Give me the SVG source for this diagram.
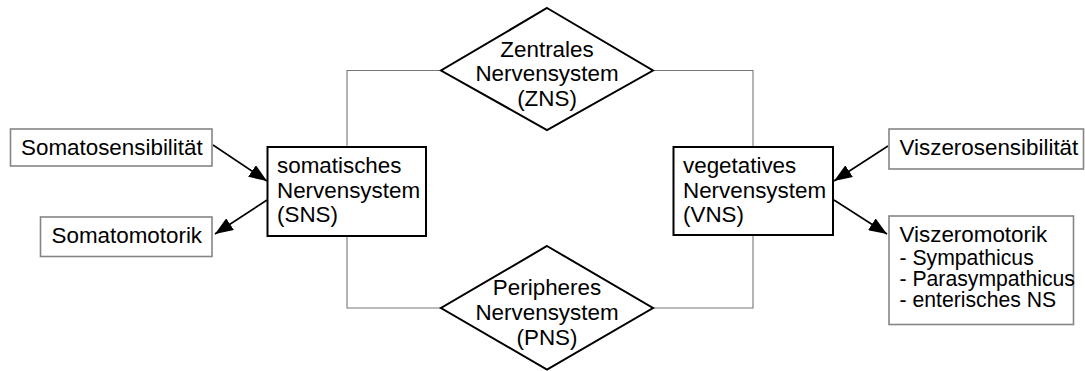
<svg xmlns="http://www.w3.org/2000/svg" width="1085" height="371" viewBox="0 0 1085 371">
<style>
text{font-family:"Liberation Sans",Arial,sans-serif;font-size:22.4px;fill:#000}
.sub{font-size:21.2px}
.mid{text-anchor:middle}
.main{fill:#fff;stroke:#000;stroke-width:2}
.leaf{fill:#fff;stroke:#858585;stroke-width:1.6}
.link{fill:none;stroke:#777;stroke-width:1.1}
.arrow{fill:none;stroke:#000;stroke-width:1.6;marker-end:url(#ah)}
</style>
<defs>
<marker id="ah" markerUnits="userSpaceOnUse" markerWidth="20" markerHeight="14" refX="18" refY="7" orient="auto">
<path d="M0,0 L18,7 L0,14 z" fill="#000"/>
</marker>
</defs>
<rect width="1085" height="371" fill="#fff"/>
<g id="connectors">
<polyline class="link" points="441,70.5 347,70.5 347,147"/>
<polyline class="link" points="653,70.5 753,70.5 753,147"/>
<polyline class="link" points="347,236 347,308 441,308"/>
<polyline class="link" points="753,235 753,308 653,308"/>
<line class="arrow" x1="213" y1="145" x2="267" y2="181"/>
<line class="arrow" x1="267" y1="200" x2="215" y2="234"/>
<line class="arrow" x1="888" y1="146" x2="834" y2="181"/>
<line class="arrow" x1="834" y1="200" x2="887" y2="234"/>
</g>
<g id="zns">
<polygon class="main" points="547,8 653,70.5 547,130 441,70.5"/>
<text class="mid" x="547" y="56.5">Zentrales</text>
<text class="mid" x="547" y="81">Nervensystem</text>
<text class="mid" x="547" y="105.5">(ZNS)</text>
</g>
<g id="pns">
<polygon class="main" points="547,246 653,308 547,369.5 441,308"/>
<text class="mid" x="547" y="295">Peripheres</text>
<text class="mid" x="547" y="320">Nervensystem</text>
<text class="mid" x="547" y="344.5">(PNS)</text>
</g>
<g id="sns">
<rect class="main" x="267.5" y="147" width="158.5" height="89"/>
<text x="277" y="173">somatisches</text>
<text x="277" y="197.5">Nervensystem</text>
<text x="277" y="222">(SNS)</text>
</g>
<g id="vns">
<rect class="main" x="673.5" y="147" width="159.5" height="88"/>
<text x="683" y="173">vegetatives</text>
<text x="683" y="197.5">Nervensystem</text>
<text x="683" y="222">(VNS)</text>
</g>
<g id="somatosensibilitaet">
<rect class="leaf" x="10.5" y="129" width="201.5" height="37"/>
<text x="21" y="155">Somatosensibilität</text>
</g>
<g id="somatomotorik">
<rect class="leaf" x="40.5" y="217" width="171.5" height="39.5"/>
<text x="51.5" y="243">Somatomotorik</text>
</g>
<g id="viszerosensibilitaet">
<rect class="leaf" x="889" y="129" width="194.5" height="40"/>
<text x="899.5" y="155">Viszerosensibilität</text>
</g>
<g id="viszeromotorik">
<rect class="leaf" x="889" y="216" width="184.5" height="108.5"/>
<text x="899.5" y="242">Viszeromotorik</text>
<text class="sub" x="899.5" y="265">- Sympathicus</text>
<text class="sub" x="899.5" y="286">- Parasympathicus</text>
<text class="sub" x="899.5" y="307">- enterisches NS</text>
</g>
</svg>
